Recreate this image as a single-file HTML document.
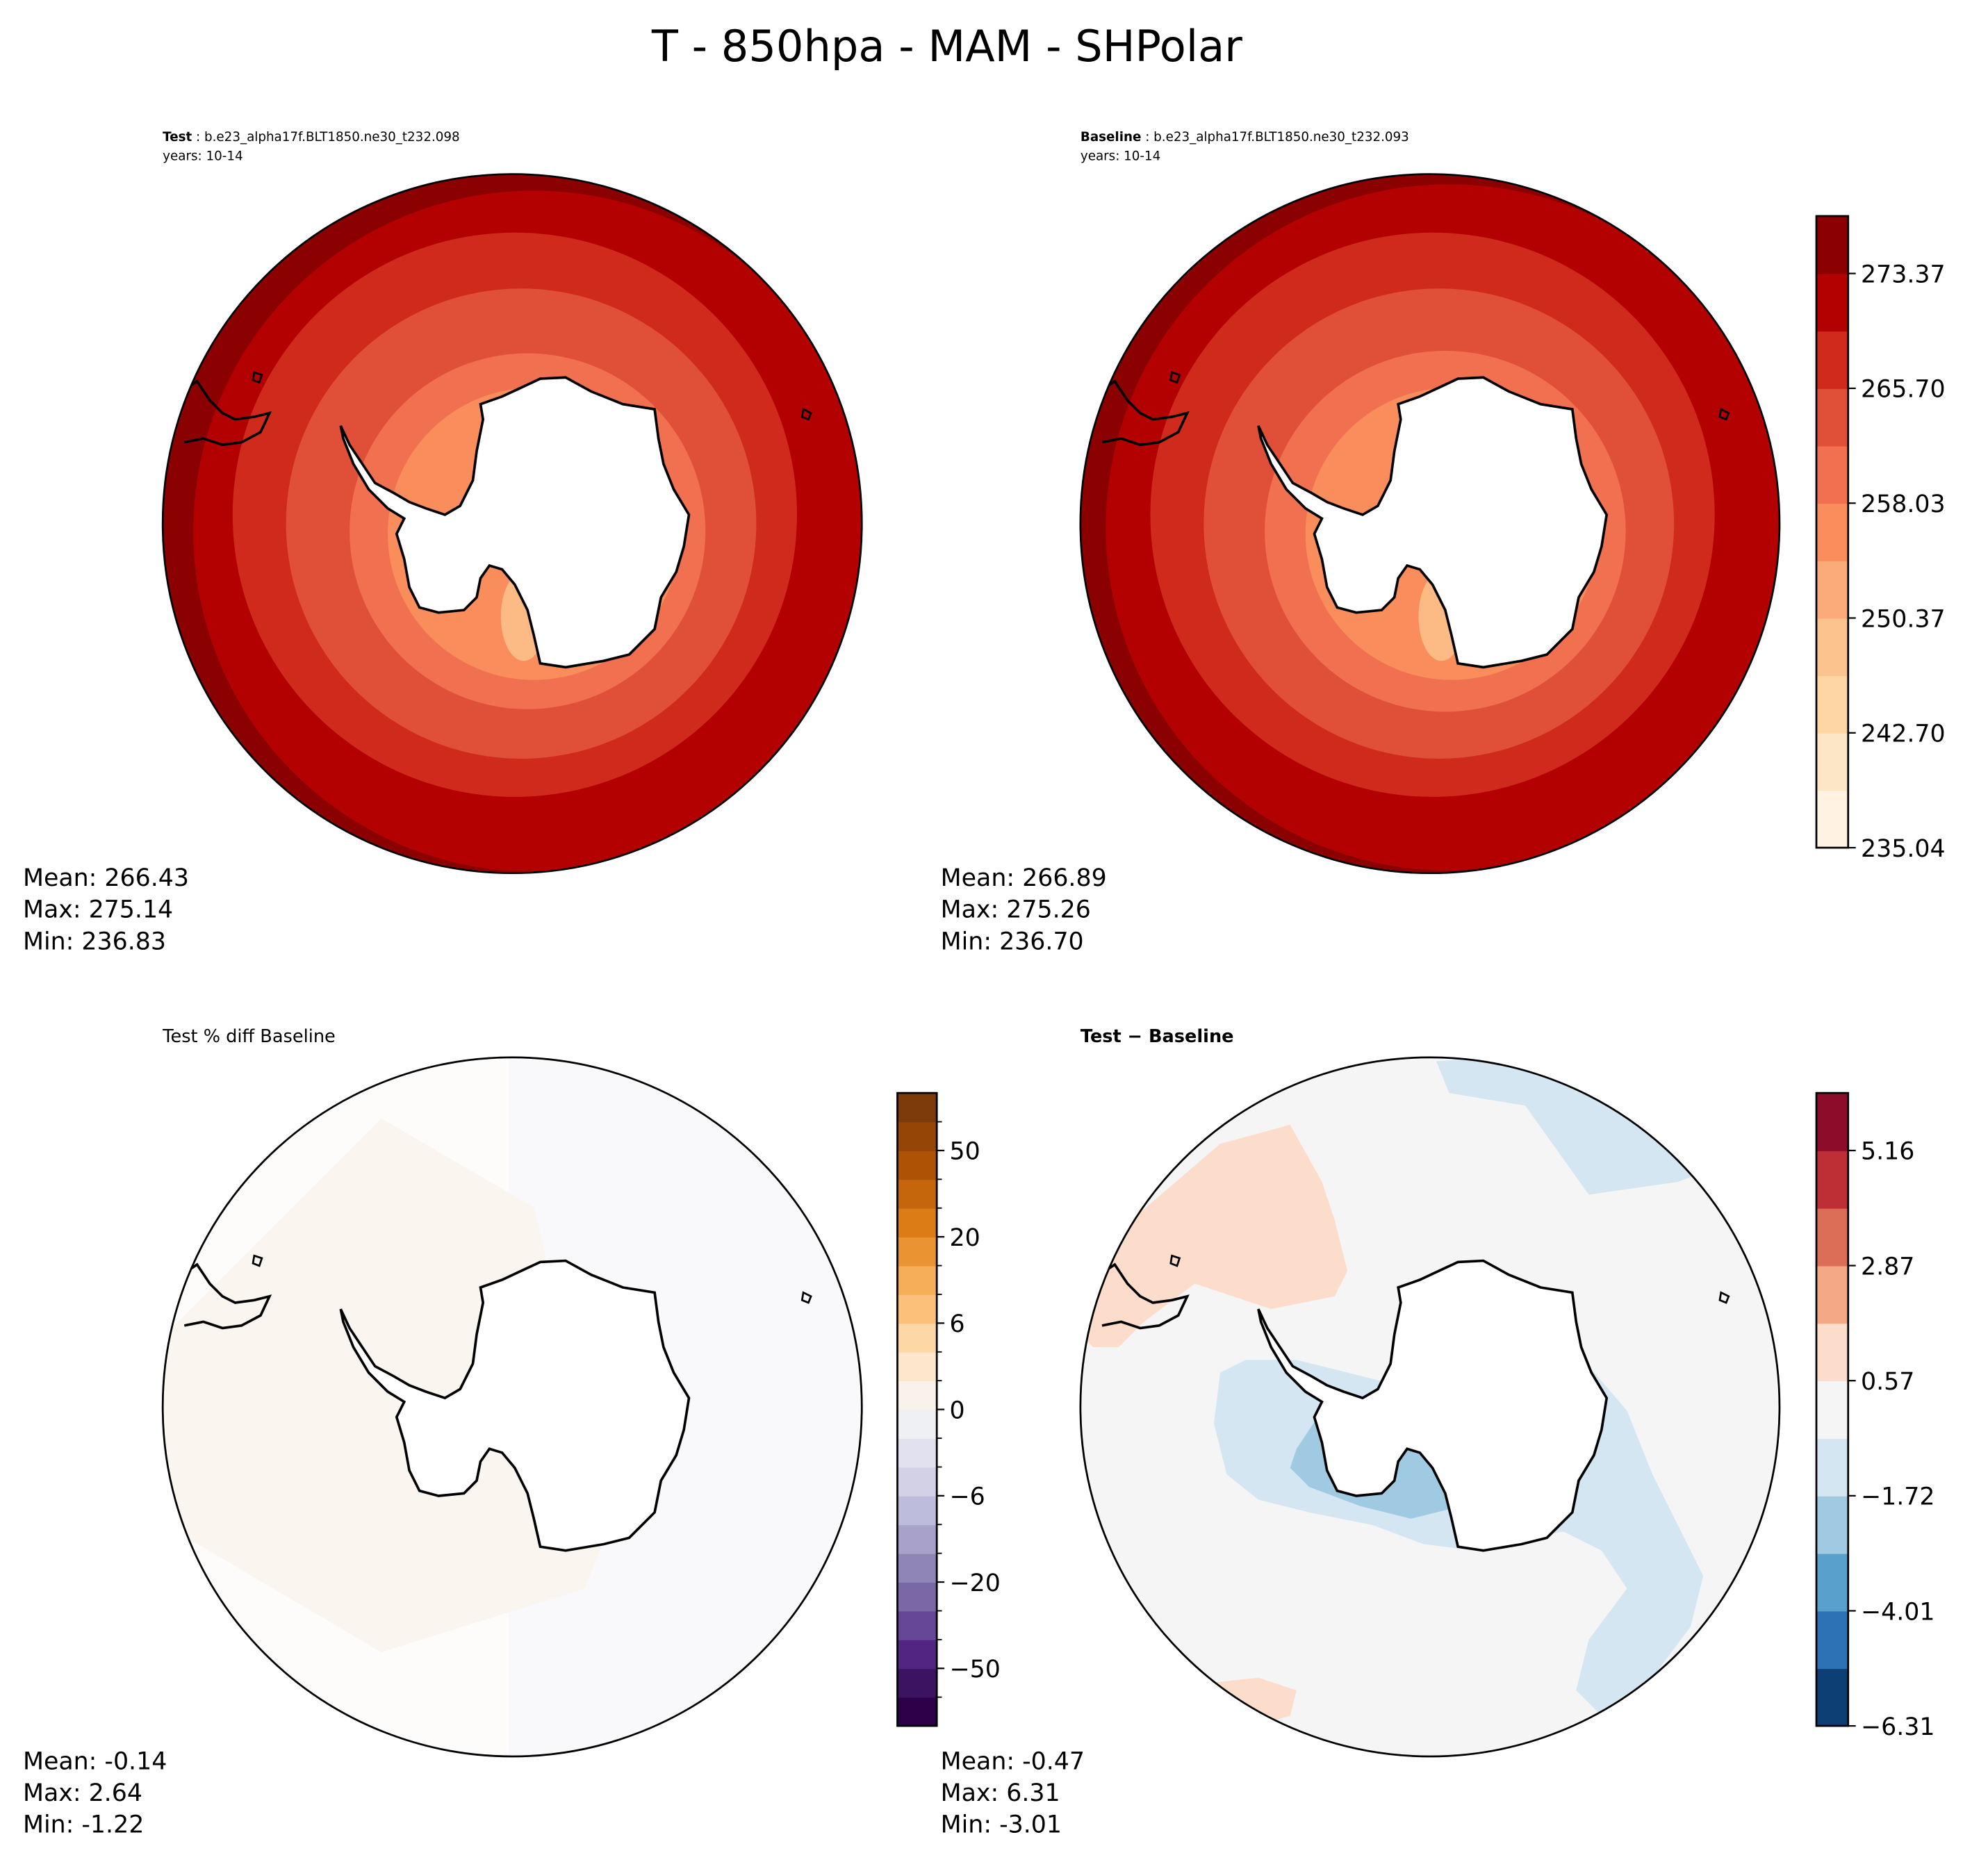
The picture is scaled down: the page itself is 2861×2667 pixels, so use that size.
<!DOCTYPE html>
<html><head><meta charset="utf-8"><style>
html,body{margin:0;padding:0;background:#fff}
svg{display:block;font-family:"DejaVu Sans","Liberation Sans",sans-serif}
</style></head><body>
<svg id="fig" width="2861" height="2667" viewBox="0 0 1564 1458" xmlns="http://www.w3.org/2000/svg">
<defs>
<clipPath id="c1"><circle cx="403" cy="412" r="275"/></clipPath>
<clipPath id="c2"><circle cx="1125" cy="412" r="275"/></clipPath>
<clipPath id="c3"><circle cx="403" cy="1107" r="275"/></clipPath>
<clipPath id="c4"><circle cx="1125" cy="1107" r="275"/></clipPath>
<g id="ant"><path d="M268,335 L275,350 L285,365 L295,380 L310,388 L322,395 L335,400 L350,405 L362,398 L372,378 L375,355 L380,330 L378,318 L395,312 L410,305 L425,298 L445,297 L465,308 L490,318 L515,322 L518,345 L522,365 L530,385 L542,405 L538,430 L532,450 L520,470 L515,495 L495,515 L475,520 L445,525 L425,522 L420,500 L415,480 L405,460 L395,448 L385,445 L378,455 L375,470 L365,480 L345,482 L330,478 L322,462 L318,440 L312,420 L318,408 L305,400 L290,385 L278,365 L270,345 Z" fill="#fff" stroke="#000" stroke-width="2"/>
<path d="M140,310 L155,300 L165,315 L175,325 L185,330 L200,328 L212,325 L205,340 L190,348 L175,350 L160,345 L145,348" fill="none" stroke="#000" stroke-width="2"/>
<path d="M200,293 l6,2 l-2,6 l-5,-2 z M632,322 l6,3 l-2,5 l-5,-2 z M445,687 l12,-5 l8,4" fill="none" stroke="#000" stroke-width="1.5"/>
</g>
</defs>
<text x="745" y="48" text-anchor="middle" font-size="34">T - 850hpa - MAM - SHPolar</text>

<!-- panel 1 -->
<text x="128" y="111" font-size="10"><tspan font-weight="bold">Test</tspan> : b.e23_alpha17f.BLT1850.ne30_t232.098</text>
<text x="128" y="126" font-size="10">years: 10-14</text>
<g clip-path="url(#c1)">
<circle cx="403" cy="412" r="276" fill="#8b0000"/>
<circle cx="420" cy="418" r="268" fill="#b30000"/>
<circle cx="405" cy="405" r="222" fill="#cf2a1b"/>
<circle cx="410" cy="412" r="185" fill="#e05039"/>
<circle cx="415" cy="418" r="140" fill="#f07050"/>
<circle cx="420" cy="420" r="115" fill="#f98d5b"/>
<ellipse cx="412" cy="485" rx="18" ry="35" fill="#fcbb84"/>
<use href="#ant"/>
</g>
<circle cx="403" cy="412" r="275" fill="none" stroke="#000" stroke-width="1.5"/>
<text font-size="19"><tspan x="18" y="697">Mean: 266.43</tspan><tspan x="18" y="722">Max: 275.14</tspan><tspan x="18" y="747">Min: 236.83</tspan></text>

<!-- panel 2 -->
<text x="850" y="111" font-size="10"><tspan font-weight="bold">Baseline</tspan> : b.e23_alpha17f.BLT1850.ne30_t232.093</text>
<text x="850" y="126" font-size="10">years: 10-14</text>
<g clip-path="url(#c2)">
<circle cx="1125" cy="412" r="276" fill="#8b0000"/>
<circle cx="1140" cy="415" r="270" fill="#b30000"/>
<circle cx="1127" cy="405" r="222" fill="#cf2a1b"/>
<circle cx="1132" cy="412" r="185" fill="#e05039"/>
<circle cx="1137" cy="418" r="142" fill="#f07050"/>
<circle cx="1142" cy="420" r="115" fill="#f98d5b"/>
<ellipse cx="1134" cy="485" rx="18" ry="35" fill="#fcbb84"/>
<use href="#ant" transform="translate(722,0)"/>
</g>
<circle cx="1125" cy="412" r="275" fill="none" stroke="#000" stroke-width="1.5"/>
<text font-size="19"><tspan x="740" y="697">Mean: 266.89</tspan><tspan x="740" y="722">Max: 275.26</tspan><tspan x="740" y="747">Min: 236.70</tspan></text>
<g id="cb1"></g>

<!-- panel 3 -->
<text x="128" y="820" font-size="14">Test % diff Baseline</text>
<g clip-path="url(#c3)">
<circle cx="403" cy="1107" r="276" fill="#fdfcfb"/>
<rect x="400" y="832" width="280" height="560" fill="#f9f9fb"/>
<path d="M130,1050 L300,880 L420,950 L480,1200 L460,1250 L300,1300 L130,1200 Z" fill="#faf6ef"/>
<use href="#ant" transform="translate(0,695)"/>
</g>
<circle cx="403" cy="1107" r="275" fill="none" stroke="#000" stroke-width="1.5"/>
<text font-size="19"><tspan x="18" y="1392">Mean: -0.14</tspan><tspan x="18" y="1417">Max:  2.64</tspan><tspan x="18" y="1442">Min: -1.22</tspan></text>
<g id="cb2"></g>

<!-- panel 4 -->
<text x="850" y="820" font-size="14" font-weight="bold">Test − Baseline</text>
<g clip-path="url(#c4)">
<circle cx="1125" cy="1107" r="276" fill="#f5f5f5"/>
<path d="M1130,835 L1140,860 L1200,870 L1250,940 L1320,930 L1400,900 L1400,820 Z" fill="#d4e6f1"/>
<path d="M850,1050 L890,960 L960,900 L1015,885 L1040,930 L1050,960 L1060,1000 L1050,1020 L1000,1030 L940,1010 L900,1040 L880,1060 L860,1060 Z" fill="#fcdcca"/>
<path d="M945,1325 L990,1320 L1020,1330 L1015,1350 L980,1360 Z" fill="#fcdcca"/>
<path d="M960,1080 L980,1070 L1020,1070 L1060,1080 L1100,1090 L1150,1080 L1220,1060 L1250,1075 L1280,1110 L1300,1160 L1320,1200 L1340,1240 L1330,1280 L1300,1320 L1260,1350 L1240,1330 L1250,1290 L1280,1250 L1260,1220 L1230,1205 L1200,1210 L1160,1220 L1120,1215 L1080,1200 L1030,1190 L990,1180 L965,1160 L955,1120 Z" fill="#d4e6f1"/>
<path d="M1020,1140 L1040,1110 L1080,1110 L1130,1130 L1150,1160 L1150,1185 L1110,1195 L1070,1185 L1030,1170 L1015,1155 Z" fill="#9fcae1"/>
<use href="#ant" transform="translate(722,695)"/>
</g>
<circle cx="1125" cy="1107" r="275" fill="none" stroke="#000" stroke-width="1.5"/>
<text font-size="19"><tspan x="740" y="1392">Mean: -0.47</tspan><tspan x="740" y="1417">Max:  6.31</tspan><tspan x="740" y="1442">Min: -3.01</tspan></text>
<g id="cb3"></g>
</svg>
<script>
const cb1Colors=["#fff2e2","#fde6c6","#fdd6a4","#fcc38e","#fbab7a","#f98d5b","#f07050","#e05039","#cf2a1b","#b30000","#8b0000"];
const cb1Ticks=["235.04","242.70","250.37","258.03","265.70","273.37"];
const cb2Colors=["#2d0049","#3c1360","#512581","#664696","#7a68a6","#8f86b6","#a8a2cb","#bebcdc","#d2d1e6","#e2e1ef","#eff0f3","#f8f2eb","#fde7cc","#fed7a6","#fdc07b","#f6ae59","#ea9333","#db7c16","#c5650c","#ae5306","#954606","#7d3b0b"];
const cb2Ticks=["\u221250","\u221220","\u22126","0","6","20","50"];
const cb3Colors=["#0d3f75","#2b73b4","#5aa0cd","#9fcae1","#d4e6f1","#f5f5f5","#fcdcca","#f4a886","#dc6e57","#be2f35","#8d0c2a"];
const cb3Ticks=["\u22126.31","\u22124.01","\u22121.72","0.57","2.87","5.16"];
const NS="http://www.w3.org/2000/svg";
function bar(id,x,w,top,bot,colors,ticks,firstIdx,step,minor){
  const g=document.getElementById(id);
  const n=colors.length,h=(bot-top)/n;
  const yOf=i=>bot-i*h;
  colors.forEach((c,i)=>{
    const r=document.createElementNS(NS,"rect");
    
    
    r.setAttribute("x",x);r.setAttribute("y",yOf(i+1));r.setAttribute("width",w);r.setAttribute("height",h+0.5);r.setAttribute("fill",c);g.appendChild(r);
  });
  const b=document.createElementNS(NS,"rect");
  
  
  b.setAttribute("x",x);b.setAttribute("y",top);b.setAttribute("width",w);b.setAttribute("height",bot-top);b.setAttribute("fill","none");b.setAttribute("stroke","#000");b.setAttribute("stroke-width","1.5");g.appendChild(b);
  if(minor){for(let i=1;i<n;i++){const l=document.createElementNS(NS,"line");
    
    
    l.setAttribute("x1",x+w);l.setAttribute("x2",x+w+4);l.setAttribute("y1",yOf(i));l.setAttribute("y2",yOf(i));l.setAttribute("stroke","#000");g.appendChild(l);}}
  ticks.forEach((t,k)=>{
    const y=yOf(firstIdx+k*step);
    const l=document.createElementNS(NS,"line");
    
    
    l.setAttribute("x1",x+w);l.setAttribute("x2",x+w+6);l.setAttribute("y1",y);l.setAttribute("y2",y);l.setAttribute("stroke","#000");l.setAttribute("stroke-width","1.2");g.appendChild(l);
    const tx=document.createElementNS(NS,"text");
    
    
    tx.setAttribute("x",x+w+10);tx.setAttribute("y",y+7);tx.setAttribute("font-size","19");tx.textContent=t;g.appendChild(tx);
  });
}
bar("cb1",1429,25,170,667,cb1Colors,cb1Ticks,0,2,false);
bar("cb2",706,31,860,1358,cb2Colors,cb2Ticks,2,3,true);
bar("cb3",1429,25,860,1358,cb3Colors,cb3Ticks,0,2,false);
</script>
</body></html>
